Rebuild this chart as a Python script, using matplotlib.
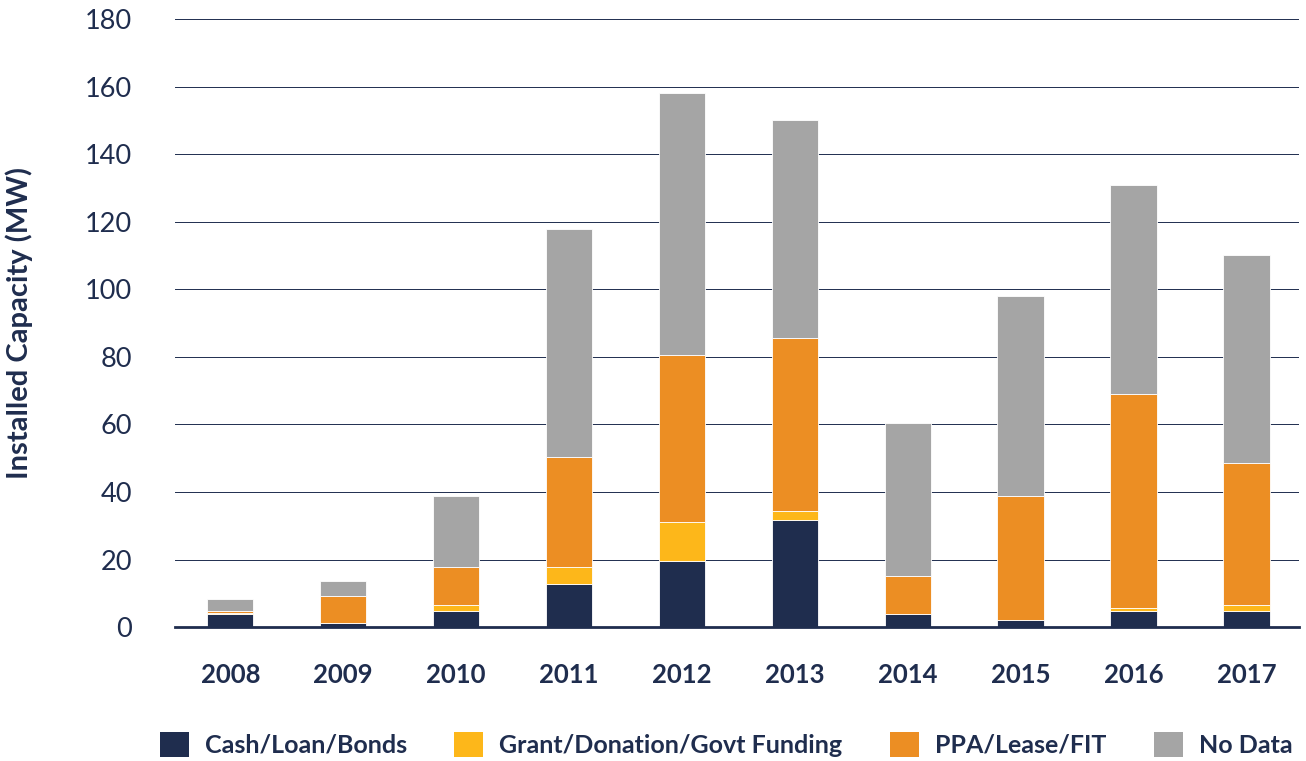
import matplotlib
matplotlib.use("Agg")
import matplotlib.pyplot as plt
import numpy as np
from matplotlib.patches import Patch

years = ["2008", "2009", "2010", "2011", "2012", "2013", "2014", "2015", "2016", "2017"]
cash = [4.0, 1.3, 4.8, 12.7, 19.5, 31.7, 3.9, 2.2, 4.7, 4.7]
grant = [0.2, 0.0, 1.8, 5.1, 11.5, 2.6, 0.0, 0.0, 1.0, 1.8]
ppa = [0.5, 7.9, 11.2, 32.5, 49.5, 51.3, 11.3, 36.6, 63.3, 42.0]
nodata = [3.6, 4.3, 21.0, 67.5, 77.5, 64.4, 45.2, 59.2, 61.8, 61.5]
series_names = ["Cash/Loan/Bonds", "Grant/Donation/Govt Funding", "PPA/Lease/FIT", "No Data"]
colors = ["#1F2D4E", "#FDB71A", "#EC8E23", "#A5A5A5"]
yticks = [0, 20, 40, 60, 80, 100, 120, 140, 160, 180]

navy = "#1F2D4E"
plt.rcParams['font.family'] = ['Lato', 'DejaVu Sans']

fig = plt.figure(figsize=(13.06, 7.61), dpi=100)
ax = fig.add_axes([0.134, 0.176, 0.861, 0.799])

x = np.arange(len(years))
bottom = np.zeros(len(years))
for vals, name, c in zip([cash, grant, ppa, nodata], series_names, colors):
    ax.bar(x, vals, width=0.41, bottom=bottom, color=c, edgecolor="white",
           linewidth=0.6, zorder=3, label=name)
    bottom += np.array(vals)

ax.set_xlim(-0.49, 9.47)
ax.set_ylim(0, 180)
ax.set_yticks(yticks)
ax.set_yticklabels([str(t) for t in yticks], fontsize=19.5, color=navy)
ax.set_xticks(x)
ax.set_xticklabels(years, fontsize=18.5, fontweight="bold", color=navy)
ax.tick_params(axis="x", length=0, pad=26)
ax.tick_params(axis="y", length=0, pad=31)
ax.grid(axis="y", color=navy, linewidth=0.7, zorder=0)
for s in ["top", "right", "left"]:
    ax.spines[s].set_visible(False)
ax.spines["bottom"].set_color(navy)
ax.spines["bottom"].set_linewidth(2)
ax.spines["bottom"].set_zorder(4)
ax.set_ylabel("Installed Capacity (MW)", fontsize=21, fontweight="bold", color=navy)
ax.yaxis.set_label_coords(-0.126, 0.5)

handles = [Patch(facecolor=c, edgecolor="none") for c in colors]
leg = fig.legend(handles, series_names, loc="center", bbox_to_anchor=(0.556, 0.022), ncol=4,
                 frameon=False, fontsize=18, handlelength=1.15, handleheight=1.15,
                 columnspacing=1.9, handletextpad=0.65)
for t in leg.get_texts():
    t.set_color(navy)
    t.set_fontweight("bold")

fig.savefig("out.png", dpi=100)
